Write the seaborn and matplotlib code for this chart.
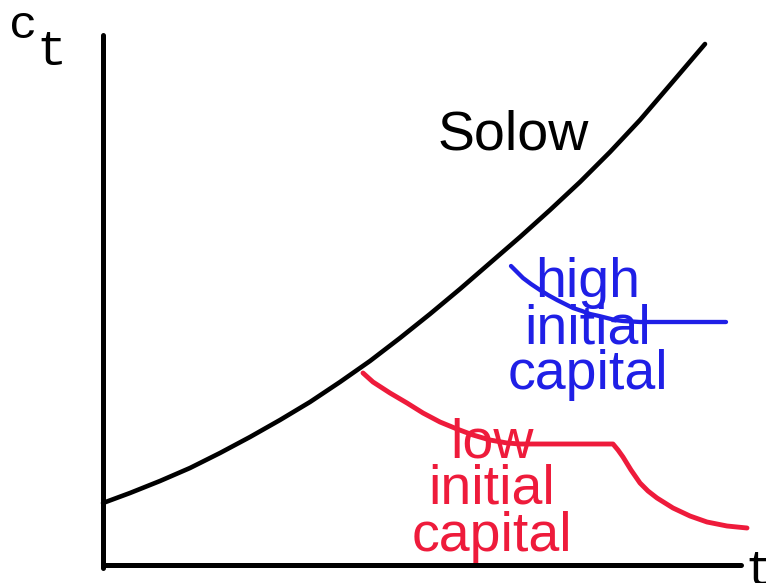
import matplotlib
matplotlib.use("Agg")
import matplotlib.pyplot as plt
import seaborn as sns
import pandas as pd

# ---- data (t measured from origin, c measured upward from the t-axis) ----
solow_t = [0, 27, 57, 87, 117, 147, 177, 207, 237, 267, 297, 327, 357, 387, 417, 447, 477, 507, 537, 567, 602]
solow_c = [62, 72, 84, 97, 112, 128, 145, 163, 183, 204, 227, 251, 276, 302, 328, 355, 383, 413, 445, 480, 521]

high_t = [408, 414, 420, 428, 437, 445, 454, 462, 470, 479, 487, 496, 504, 512, 520, 537, 623]
high_c = [299, 293, 287, 281, 275, 270, 265, 261, 257, 254, 251, 249, 247, 245, 244, 243, 243]

low_t = [260, 270, 287, 304, 320, 337, 354, 370, 387, 404, 417, 510, 515, 520, 528, 537,
         545, 554, 562, 570, 587, 604, 624, 644]
low_c = [192, 183, 172, 162, 152, 143, 136, 130, 125, 122, 121, 121, 115, 108, 95, 82,
         74, 67, 62, 57, 49, 43, 39, 37]

# axes of the sketch (no arrowheads)
yaxis_t = [0, 0]
yaxis_c = [-3, 530]
xaxis_t = [0, 638]
xaxis_c = [0, 0]

labels_solow = "Solow"
labels_high = ["high", "initial", "capital"]
labels_low = ["low", "initial", "capital"]

BLUE = "#1f1fe6"
RED = "#ee1b3b"

sns.set_theme(style="white")
plt.rcParams["font.family"] = ["Liberation Sans", "DejaVu Sans"]

fig = plt.figure(figsize=(7.66, 5.83), dpi=100)
ax = fig.add_axes([0, 0, 1, 1])

def draw(t, c, color, lw):
    df = pd.DataFrame({"t": t, "c": c})
    sns.lineplot(data=df, x="t", y="c", sort=False, estimator=None, ax=ax,
                 color=color, linewidth=lw, solid_capstyle="round",
                 solid_joinstyle="round")

draw(yaxis_t, yaxis_c, "black", 3.6)
draw(xaxis_t, xaxis_c, "black", 3.6)
draw(solow_t, solow_c, "black", 3.3)
draw(high_t, high_c, BLUE, 3.1)
draw(low_t, low_c, RED, 3.5)

ax.set_xlim(-103, 663)
ax.set_ylim(-18, 565)
ax.axis("off")

fs = 40
ax.text(335, 415, labels_solow, fontsize=fs, color="black", ha="left", va="baseline")
for i, s in enumerate(labels_high):
    ax.text(485, 268 - 46 * i, s, fontsize=fs, color=BLUE, ha="center", va="baseline")
for i, s in enumerate(labels_low):
    ax.text(389, 108 - 47 * i, s, fontsize=fs, color=RED, ha="center", va="baseline")

mono = ["Liberation Mono", "DejaVu Sans Mono"]
ax.text(-94, 527, "c", fontsize=34, family=mono, color="black", ha="left", va="baseline")
ax.text(-67, 500, "t", fontsize=36, family=mono, color="black", ha="left", va="baseline")
ax.text(641, -20, "t", fontsize=36, family=mono, color="black", ha="left", va="baseline")

fig.savefig("out.png", dpi=100)
